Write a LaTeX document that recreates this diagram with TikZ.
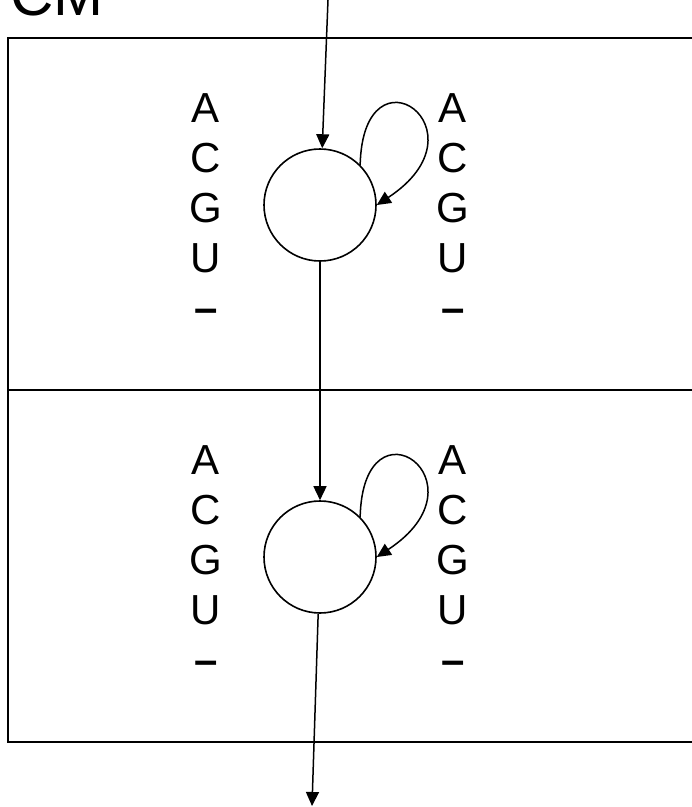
\documentclass[tikz,border=0pt]{standalone}
\usepackage{fontspec}
\setmainfont{Liberation Sans}
\usetikzlibrary{arrows.meta}
\tikzset{
  frame/.style  = {line width=2pt},
  state/.style  = {circle, draw, line width=1.6pt, minimum size=112pt, inner sep=0pt},
  letter/.style = {anchor=base, inner sep=0pt, font=\fontsize{42}{50}\selectfont},
  title/.style  = {anchor=base west, inner sep=0pt, font=\fontsize{60}{72}\selectfont},
  arr/.style    = {-{Triangle[length=14pt,width=13pt]}, line width=1.5pt},
}

\begin{document}
\begin{tikzpicture}[x=1pt,y=-1pt]
  \useasboundingbox (0,0) rectangle (692,807);
  \node[title] (cm) at (10,15) {CM};

  % two bands of the model
  \draw[frame] (700,38) -- (8,38) -- (8,742) -- (700,742);
  \draw[frame] (8,390) -- (700,390);

  \foreach \k/\dy in {1/0,2/352} {
    \node[state] (state\k) at (320,205+\dy) {};
    \foreach \s [count=\i from 0] in {A,C,G,U,\textbf{\textendash}} {
      \node[letter] (left\k-\i)  at (206,122+50*\i+\dy) {\s};
      \node[letter] (right\k-\i) at (453,122+50*\i+\dy) {\s};
    }
    \draw[arr] (state\k.45) .. controls +(3,-125) and +(114,-75) .. (state\k.east);
  }

  \coordinate (entry) at (328,0);
  \coordinate (exit) at (312,806);
  \draw[arr] (entry) -- (state1);
  \draw[arr] (state1) -- (state2);
  \draw[arr] (state2) -- (exit);
\end{tikzpicture}
\end{document}
